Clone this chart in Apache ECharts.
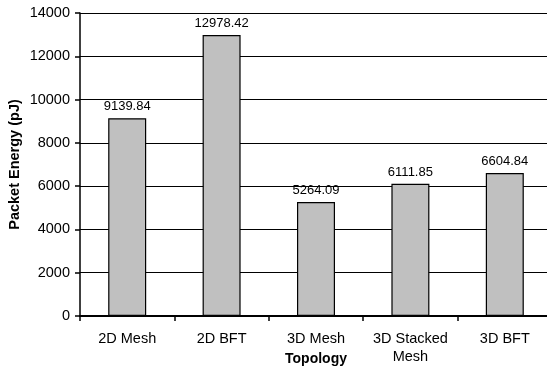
<!DOCTYPE html>
<html><head><meta charset="utf-8">
<script src="https://cdn.jsdelivr.net/npm/echarts@6/dist/echarts.min.js"></script>
<style>html,body{margin:0;padding:0;background:#fff}#c{width:547px;height:370px}</style>
</head><body><div id="c"></div>
<script>
var categories = ['2D Mesh', '2D BFT', '3D Mesh', '3D Stacked\nMesh', '3D BFT'];
var values = [9139.84, 12978.42, 5264.09, 6111.85, 6604.84];
var yTicks = [0, 2000, 4000, 6000, 8000, 10000, 12000, 14000];

var chart = echarts.init(document.getElementById('c'), null, {renderer: 'canvas'});
var F = 'Liberation Sans, Arial, sans-serif';
chart.setOption({
  animation: false,
  backgroundColor: '#fff',
  grid: {left: 80, right: -5, top: 13, bottom: 54, containLabel: false, outerBoundsMode: 'none'},
  xAxis: {
    type: 'category',
    data: categories,
    name: 'Topology',
    nameLocation: 'middle',
    nameGap: 36,
    nameMoveOverlap: false,
    nameTextStyle: {fontFamily: F, fontSize: 14, fontWeight: 'bold', color: '#000'},
    axisLine: {lineStyle: {color: '#000', width: 2}},
    axisTick: {show: true, alignWithLabel: false, length: 5, lineStyle: {color: '#000', width: 1.5}},
    axisLabel: {fontFamily: F, fontSize: 14.5, color: '#000', margin: 14, lineHeight: 18, interval: 0}
  },
  yAxis: {
    type: 'value',
    min: yTicks[0],
    max: yTicks[yTicks.length - 1],
    interval: 2000,
    name: 'Packet Energy (pJ)',
    nameLocation: 'middle',
    nameGap: 58,
    nameMoveOverlap: false,
    nameTextStyle: {fontFamily: F, fontSize: 14.5, fontWeight: 'bold', color: '#000'},
    axisLine: {show: true, lineStyle: {color: '#000', width: 1.5}},
    axisTick: {show: true, length: 5, lineStyle: {color: '#000', width: 1.5}},
    axisLabel: {fontFamily: F, fontSize: 14.5, color: '#000', margin: 10,
      formatter: function (v) { return String(v); }},
    splitLine: {show: true, lineStyle: {color: '#000', width: 1}}
  },
  series: [{
    type: 'bar',
    data: values,
    barWidth: 38,
    itemStyle: {color: '#c0c0c0', borderColor: '#000', borderWidth: 1.2},
    label: {show: true, position: 'top', distance: 5, fontFamily: F, fontSize: 13, color: '#000',
      formatter: function (p) { return p.value.toFixed(2); }}
  }]
});
</script></body></html>
